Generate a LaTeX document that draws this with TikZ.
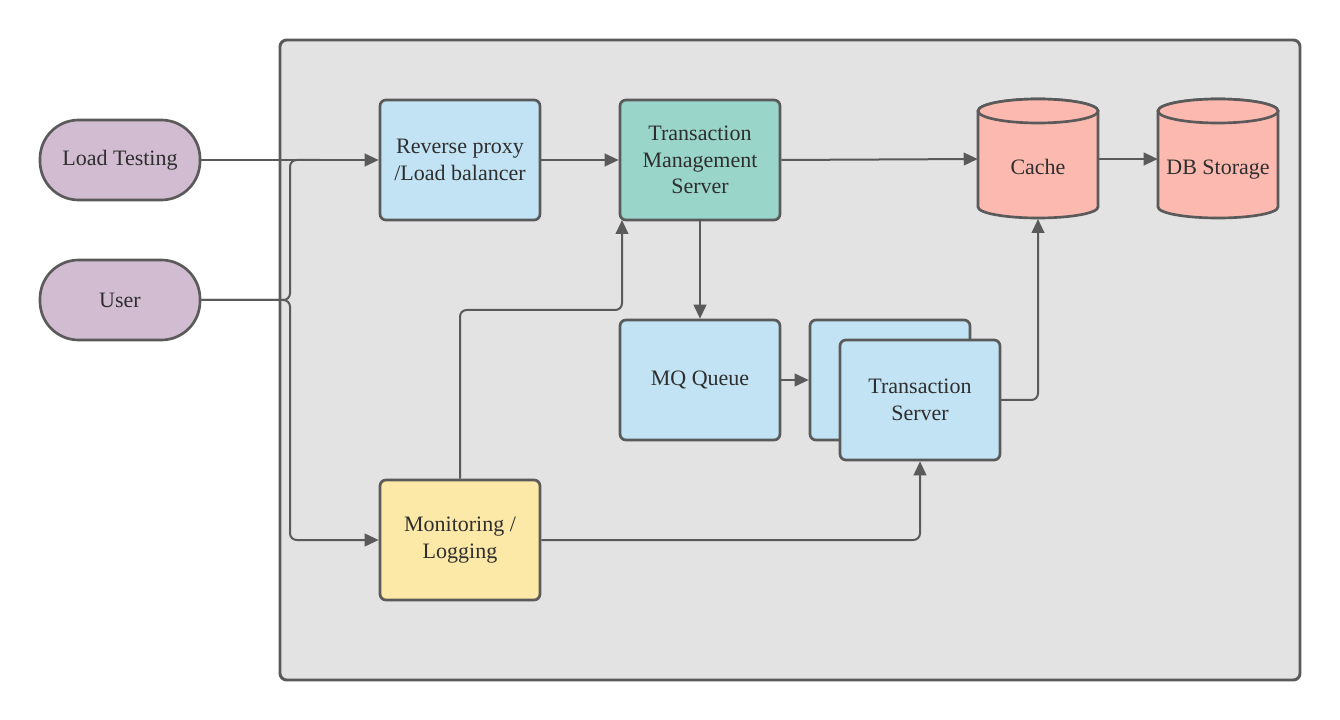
\documentclass[tikz,border=0pt]{standalone}
\usepackage{fontspec}
\setmainfont{Liberation Serif}
\usetikzlibrary{arrows.meta}
\definecolor{linec}{HTML}{5A5A5A}
\definecolor{bgc}{HTML}{E3E3E3}
\definecolor{purp}{HTML}{D2BCD2}
\definecolor{bluec}{HTML}{C2E3F4}
\definecolor{tealc}{HTML}{9AD5CA}
\definecolor{salm}{HTML}{FBB9AF}
\definecolor{yelc}{HTML}{FDE9A7}
\definecolor{txtc}{HTML}{2E2E2E}
\begin{document}
\begin{tikzpicture}[x=0.75pt,y=-0.75pt,
  every node/.style={font=\fontsize{16.5}{20}\selectfont, text=txtc},
  box/.style={draw=linec, line width=2pt, rounded corners=4.5pt, minimum width=120pt, minimum height=90pt, align=center, inner sep=0pt},
  pill/.style={draw=linec, line width=2pt, rounded corners=29pt, fill=purp, minimum width=120pt, minimum height=60pt, inner sep=0pt},
  conn/.style={draw=linec, line width=1.5pt, -{Triangle[length=10.5pt,width=9.5pt]}},
  plain/.style={draw=linec, line width=1.5pt},
  cyl/.style={draw=linec, line width=2pt, fill=salm}
]
\useasboundingbox (0,0) rectangle (1340,720);
\fill[white] (0,0) rectangle (1340,720);
% container
\draw[draw=linec, fill=bgc, line width=2.2pt, rounded corners=5pt] (280,40) rectangle (1300,680);

% left actors
\node[pill] (lt) at (120,160) {Load Testing};
\node[pill] (user) at (120,300) {User};

% boxes
\node[box, fill=bluec] (rp) at (460,160) {Reverse proxy\\/Load balancer};
\node[box, fill=tealc] (tms) at (700,160) {Transaction\\Management\\Server};
\node[box, fill=bluec] (mq) at (700,380) {MQ Queue};
\node[box, fill=bluec] (tsb) at (890,380) {};
\node[box, fill=bluec] (ts) at (920,400) {Transaction\\Server};
\node[box, fill=yelc] (mon) at (460,540) {Monitoring /\\Logging};

% cylinders
\foreach \cx/\nm/\lab in {1038/cache/Cache, 1218/db/DB Storage}{
  \draw[cyl] (\cx-60,111) -- (\cx-60,207) arc[start angle=180,end angle=0,x radius=60,y radius=11] -- (\cx+60,111) arc[start angle=0,end angle=-180,x radius=60,y radius=12] -- cycle;
  \draw[cyl] (\cx,111) ellipse[x radius=60,y radius=12];
  \node[minimum width=90pt, minimum height=88.5pt, inner sep=0pt] (\nm) at (\cx,159) {};
  \node[anchor=base, inner sep=0pt] at (\cx,175) {\lab};
}

% connectors
\draw[conn] (lt.east) -- (rp.west);
\draw[plain, rounded corners=5pt] (user.east) -- (290,300) -- (290,160) -- (320,160);
\draw[conn, rounded corners=5pt] (user.east) -- (290,300) -- (290,540) -- (mon.west);
\draw[conn] (rp.east) -- (tms.west);
\draw[conn] (tms.east) -- (cache.west);
\draw[conn] (cache.east) -- (db.west);
\draw[conn] (tms.south) -- (mq.north);
\draw[conn] (mq.east) -- (tsb.west);
\coordinate (tmsin) at (622,220);
\draw[conn, rounded corners=5pt] (mon.north) -- (460,310) -- (622,310) -- (tmsin);
\draw[conn, rounded corners=5pt] (mon.east) -- (920,540) -- (ts.south);
\coordinate (cachein) at (1038,219);
\draw[conn, rounded corners=5pt] (1000,400) -- (1038,400) -- (cachein);
\end{tikzpicture}
\end{document}
